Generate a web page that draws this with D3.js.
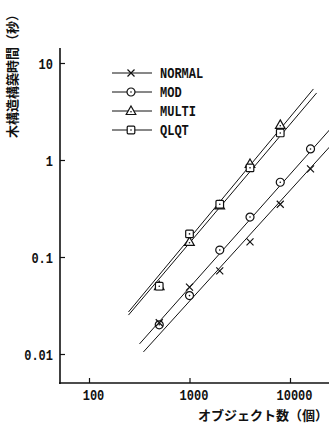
<!DOCTYPE html>
<html>
<head>
<meta charset="utf-8">
<script src="https://cdn.jsdelivr.net/npm/d3@7"></script>
<style>
  body { margin: 0; background: #fff; }
  svg { display: block; }
</style>
</head>
<body>
<div id="chart"></div>
<script>
// data
const seriesNames = ["NORMAL", "MOD", "MULTI", "QLQT"];
const seriesMarks = ["cross", "circle", "triangle", "square"];

const normalN = [500, 1000, 2000, 4000, 8000, 16000];
const normalT = [0.021, 0.049, 0.072, 0.143, 0.35, 0.81];
const modN = [500, 1000, 2000, 4000, 8000, 16000];
const modT = [0.02, 0.04, 0.118, 0.258, 0.59, 1.3];
const multiN = [500, 1000, 2000, 4000, 8000];
const multiT = [0.05, 0.143, 0.34, 0.91, 2.3];
const qlqtN = [500, 1000, 2000, 4000, 8000];
const qlqtT = [0.05, 0.173, 0.35, 0.83, 1.9];

// fitted lines: [start, end]
const normalFitN = [348, 24700];
const normalFitT = [0.0105, 1.36];
const modFitN = [318, 24700];
const modFitT = [0.0127, 2.04];
const multiFitN = [247, 17100];
const multiFitT = [0.0271, 5.4];
const qlqtFitN = [247, 18400];
const qlqtFitT = [0.0252, 4.91];

const xTicks = [100, 1000, 10000];
const xTickLabels = ["100", "1000", "10000"];
const yTicks = [0.01, 0.1, 1, 10];
const yTickLabels = ["0.01", "0.1", "1", "10"];

const width = 329;
const height = 430;
const monoFont = "'Liberation Mono', 'DejaVu Sans Mono', monospace";
const cjkFont = "'Noto Sans CJK JP', sans-serif";

const x = d3.scaleLog().domain([100, 10000]).range([89, 290]);
const y = d3.scaleLog().domain([0.01, 10]).range([354, 63]);

const svg = d3.select("#chart")
  .append("svg")
  .attr("width", width)
  .attr("height", height);

svg.append("rect").attr("width", width).attr("height", height).attr("fill", "#fff");

// axes
const yAxis = d3.axisLeft(y)
  .tickValues(yTicks)
  .tickFormat((d, i) => yTickLabels[i])
  .tickSizeInner(-5)
  .tickSizeOuter(0)
  .tickPadding(7);

const gy = svg.append("g").attr("transform", "translate(60,0)").call(yAxis);
gy.select(".domain").remove();

const xAxis = d3.axisBottom(x)
  .tickValues(xTicks)
  .tickFormat((d, i) => xTickLabels[i])
  .tickSizeInner(-5)
  .tickSizeOuter(0)
  .tickPadding(7);

const gx = svg.append("g").attr("transform", "translate(0,383)").call(xAxis);
gx.select(".domain").remove();

svg.selectAll(".tick line").attr("stroke", "#111").attr("stroke-width", 1.2);
svg.selectAll(".tick text")
  .attr("fill", "#111")
  .style("font-family", monoFont)
  .style("font-weight", "bold")
  .style("font-size", "14px")
  .attr("textLength", function() { return this.textContent.length * 7.2; })
  .attr("lengthAdjust", "spacingAndGlyphs");
gy.selectAll(".tick text").attr("dy", "0.38em");
gx.selectAll(".tick text").attr("dx", 4);

svg.append("line")
  .attr("x1", 60).attr("x2", 60).attr("y1", 48).attr("y2", 384)
  .attr("stroke", "#111").attr("stroke-width", 1.6);
svg.append("line")
  .attr("x1", 59).attr("x2", width).attr("y1", 383).attr("y2", 383)
  .attr("stroke", "#111").attr("stroke-width", 1.6);

// titles
svg.append("text")
  .attr("transform", "translate(17,138) rotate(-90)")
  .text("木構造構築時間（秒）")
  .style("font-family", cjkFont)
  .style("font-weight", "bold")
  .style("font-size", "13px")
  .attr("fill", "#111");

svg.append("text")
  .attr("x", 198).attr("y", 420)
  .text("オブジェクト数（個）")
  .style("font-family", cjkFont)
  .style("font-weight", "bold")
  .style("font-size", "13px")
  .attr("fill", "#111");

// fit lines
const fits = [
  { n: normalFitN, t: normalFitT },
  { n: modFitN, t: modFitT },
  { n: multiFitN, t: multiFitT },
  { n: qlqtFitN, t: qlqtFitT }
];

const line = d3.line().x(d => x(d[0])).y(d => y(d[1]));

svg.selectAll("path.fit")
  .data(fits)
  .enter()
  .append("path")
  .attr("class", "fit")
  .attr("d", d => line(d3.zip(d.n, d.t)))
  .attr("fill", "none")
  .attr("stroke", "#111")
  .attr("stroke-width", 1);

// markers
function drawMark(g, kind) {
  if (kind === "cross") {
    g.append("path").attr("d", "M-3.5,-3.5L3.5,3.5M-3.5,3.5L3.5,-3.5")
      .attr("stroke", "#111").attr("stroke-width", 1.2).attr("fill", "none");
    return;
  }
  let shape;
  if (kind === "circle") shape = g.append("circle").attr("r", 4);
  if (kind === "triangle") shape = g.append("path").attr("d", "M0,-5L4.8,3.5L-4.8,3.5Z");
  if (kind === "square") shape = g.append("rect").attr("x", -3.8).attr("y", -3.8).attr("width", 7.6).attr("height", 7.6).attr("rx", 1);
  shape.attr("fill", "#fff").attr("stroke", "#111").attr("stroke-width", 1.2);
  g.append("circle").attr("r", 0.8).attr("cy", kind === "triangle" ? 0.8 : 0).attr("fill", "#111");
}

const points = [
  { n: multiN, t: multiT, mark: "triangle" },
  { n: qlqtN, t: qlqtT, mark: "square" },
  { n: modN, t: modT, mark: "circle" },
  { n: normalN, t: normalT, mark: "cross" }
];

points.forEach(s => {
  svg.append("g").selectAll("g")
    .data(d3.zip(s.n, s.t))
    .enter()
    .append("g")
    .attr("transform", d => `translate(${x(d[0])},${y(d[1])})`)
    .each(function() { drawMark(d3.select(this), s.mark); });
});

// legend
const legend = svg.append("g").selectAll("g")
  .data(seriesNames)
  .enter()
  .append("g")
  .attr("transform", (d, i) => `translate(0,${73 + i * 19})`);

legend.append("line")
  .attr("x1", 112).attr("x2", 152)
  .attr("stroke", "#111").attr("stroke-width", 1);

legend.each(function(d, i) {
  const g = d3.select(this).append("g").attr("transform", "translate(131,0)");
  drawMark(g, seriesMarks[i]);
});

legend.append("text")
  .attr("x", 160).attr("y", 5)
  .text(d => d)
  .style("font-family", monoFont)
  .style("font-weight", "bold")
  .style("font-size", "14px")
  .attr("textLength", d => d.length * 7.2)
  .attr("lengthAdjust", "spacingAndGlyphs")
  .attr("fill", "#111");
</script>
</body>
</html>
